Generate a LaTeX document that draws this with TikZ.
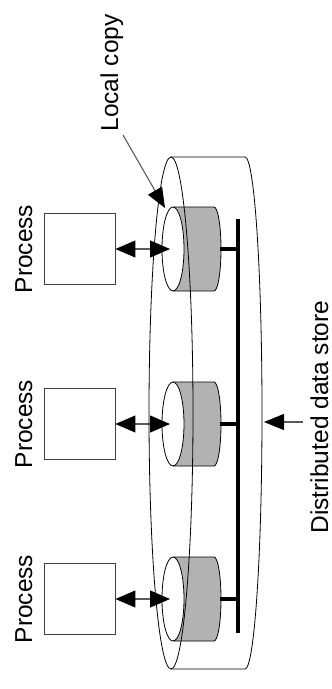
\documentclass[tikz,border=0pt]{standalone}
\usepackage{fontspec}
\setmainfont{Liberation Sans}
\usetikzlibrary{arrows.meta}
\definecolor{bodygray}{RGB}{178,178,178}
\definecolor{wiregray}{RGB}{90,90,90}
\begin{document}
\begin{tikzpicture}[x=1pt,y=1pt,
  outline/.style={draw=black,line width=0.8pt},
  procbox/.style={draw=black!75,line width=0.9pt,minimum width=71pt,minimum height=71pt,inner sep=0pt},
  label/.style={font=\fontsize{24.5}{28}\selectfont,rotate=90,anchor=base,inner sep=0pt},
  bus/.style={line width=4.5pt,black},
  link/.style={wiregray,line width=1.1pt},
  bigtip/.style={{Triangle[length=20pt,width=17pt,color=black]}-{Triangle[length=20pt,width=17pt,color=black]}},
  pointer/.style={-{Triangle[length=20pt,width=16pt,color=black]}}]
\useasboundingbox (0,0) rectangle (332,-689);

% local copies: small cylinders lying on their side
\foreach \c/\n in {249/a,424/b,599/c}{
  \fill[bodygray] (173,-\c+42) -- (214,-\c+42) arc[start angle=90,end angle=-90,x radius=7,y radius=42]
    -- (173,-\c-42) arc[start angle=-90,end angle=90,x radius=11,y radius=42] -- cycle;
  \draw[outline] (173,-\c+42) -- (214,-\c+42) arc[start angle=90,end angle=-90,x radius=7,y radius=42] -- (173,-\c-42);
  \draw[outline,fill=white] (173,-\c) ellipse[x radius=11,y radius=42];
  \coordinate (face\n) at (170,-\c);
  \coordinate (back\n) at (220,-\c);
  \coordinate (tap\n) at (238,-\c);
  \node[procbox] (proc\n) at (79.5,-\c) {};
  \node[label] (plabel\n) at (32,-\c) {Process};
  \draw[link,bigtip] (proc\n.east) -- (face\n);
  \draw[bus] (back\n) -- (tap\n);
}

% shared bus
\coordinate (bustop) at (238,-219);
\coordinate (busbot) at (238,-633);
\draw[bus] (bustop) -- (busbot);

% distributed store: large transparent cylinder
\draw[outline] (171,-413) ellipse[x radius=22,y radius=256];
\draw[outline] (171,-157) -- (245,-157) arc[start angle=90,end angle=-90,x radius=17,y radius=256] -- (171,-669);

% annotations
\node[label] (lcopy) at (118,-73) {Local copy};
\coordinate (lcfrom) at (123,-135);
\coordinate (lcto) at (165,-208);
\draw[link,pointer] (lcfrom) -- (lcto);

\node[label] (dstore) at (328,-417) {Distributed data store};
\coordinate (dsfrom) at (303,-422);
\coordinate (dsto) at (264,-422);
\draw[link,pointer] (dsfrom) -- (dsto);
\end{tikzpicture}
\end{document}
